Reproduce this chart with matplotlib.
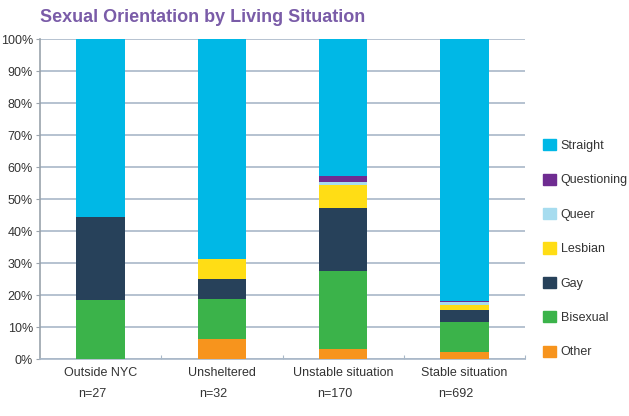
import numpy as np
import matplotlib.pyplot as plt
from matplotlib.patches import Patch

plt.rcParams['font.family'] = ['Liberation Sans', 'DejaVu Sans']

categories = ['Outside NYC', 'Unsheltered', 'Unstable situation', 'Stable situation']
counts = ['n=27', 'n=32', 'n=170', 'n=692']
groups = ['Other', 'Bisexual', 'Gay', 'Lesbian', 'Queer', 'Questioning', 'Straight']
other = [0.0, 6.25, 3.0, 2.1]
bisexual = [18.5, 12.5, 24.6, 9.4]
gay = [25.9, 6.25, 19.7, 3.7]
lesbian = [0.0, 6.25, 7.1, 1.7]
queer = [0.0, 0.0, 1.0, 0.8]
questioning = [0.0, 0.0, 1.9, 0.4]
straight = [55.6, 68.75, 42.7, 81.9]
colors = ['#f7941d', '#3bb34a', '#27415a', '#ffdd15', '#a6dcef', '#6f2c91', '#00b8e6']

series = [other, bisexual, gay, lesbian, queer, questioning, straight]

fig = plt.figure(figsize=(6.29, 4.16), dpi=100)
ax = fig.add_axes([40/629, 1-359/416, 485/629, 320/416])

x = np.arange(len(categories))
bottom = np.zeros(len(categories))
for vals, col, name in zip(series, colors, groups):
    ax.bar(x, vals, 0.4, bottom=bottom, color=col, label=name, zorder=3)
    bottom += np.array(vals)

ax.set_xlim(-0.5, 3.5)
ax.set_ylim(0, 100)
ax.set_yticks(np.arange(0, 101, 10))
ax.set_yticklabels(['%d%%' % v for v in range(0, 101, 10)])
ax.yaxis.grid(True, color='#a9b8c8', linewidth=1.2, zorder=0)
ax.set_axisbelow(True)
for s in ['top', 'right']:
    ax.spines[s].set_visible(False)
ax.spines['left'].set_color('#9aa3ab')
ax.spines['bottom'].set_color('#a9b8c8')
ax.spines['left'].set_linewidth(1.2)
ax.spines['bottom'].set_linewidth(1.2)
ax.tick_params(axis='y', length=3, color='#9aa3ab', labelsize=9, labelcolor='#333333', pad=2)

ax.set_xticks(np.arange(0.5, 3.6, 1))
ax.set_xticklabels([])
ax.tick_params(axis='x', length=3, direction='in', color='#a9b8c8')
for i, (c, n) in enumerate(zip(categories, counts)):
    ax.text(i, -4.5, c, ha='center', va='center', fontsize=9, color='#333333')
    ax.text(i - 0.07, -11, n, ha='center', va='center', fontsize=9, color='#333333')

fig.text(40/629, 1-17/416, 'Sexual Orientation by Living Situation', fontsize=13,
         fontweight='bold', color='#7a5ca8', ha='left', va='center')

handles = [Patch(color=c, label=g) for g, c in zip(groups, colors)][::-1]
fig.legend(handles=handles, loc='upper left', bbox_to_anchor=(532/629, 1-128/416),
           frameon=False, fontsize=9, labelspacing=1.72, handlelength=1.0,
           handleheight=1.0, handletextpad=0.4, labelcolor='#333333')

fig.savefig('out.png', dpi=100)
